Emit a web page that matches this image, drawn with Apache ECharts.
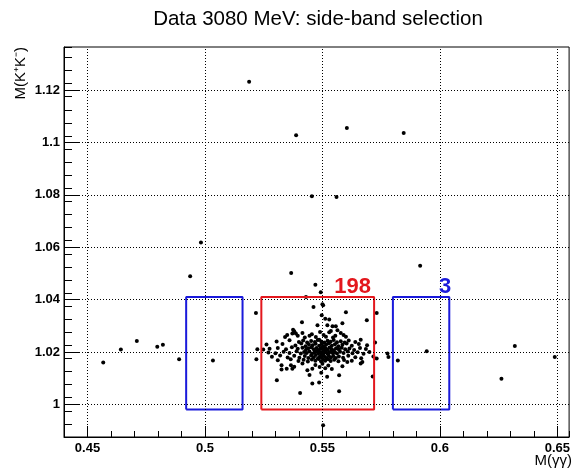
<!DOCTYPE html>
<html>
<head>
<meta charset="utf-8">
<script src="https://cdn.jsdelivr.net/npm/echarts@6/dist/echarts.min.js"></script>
<style>
html,body{margin:0;padding:0;background:#fff;}
#chart{width:573px;height:470px;}
</style>
</head>
<body>
<div id="chart"></div>
<script>
// ---- axis ticks ----
const xMajorTicks = [0.45, 0.5, 0.55, 0.6, 0.65];
const xMinorStep = 0.01;
const yMajorTicks = [1, 1.02, 1.04, 1.06, 1.08, 1.1, 1.12];
const yMinorStep = 0.005;
const xRange = [0.44, 0.655];
const yRange = [0.9875, 1.1365];

// ---- selection windows ----
const signalWindowX = [0.524, 0.572];
const sideLeftX = [0.492, 0.516];
const sideRightX = [0.580, 0.604];
const windowY = [0.998, 1.041];

// ---- event counts ----
const signalCount = '198';
const sideCount = '3';
const signalCountPos = [0.555, 1.0405];
const sideCountPos = [0.5996, 1.0405];

// ---- events: points inside signal window ----
const eventsCore = [
[0.5305,1.0240],[0.5360,1.0245],[0.5400,1.0238],[0.5418,1.0244],[0.5435,1.0236],[0.5452,1.0242],[0.5468,1.0238],[0.5480,1.0246],[0.5495,1.0240],[0.5508,1.0236],[0.5522,1.0243],[0.5535,1.0239],[0.5548,1.0246],[0.5562,1.0237],[0.5578,1.0241],[0.5595,1.0236],[0.5612,1.0244],[0.5640,1.0238],
[0.5262,1.0228],[0.5330,1.0230],[0.5385,1.0225],[0.5410,1.0232],[0.5428,1.0222],[0.5442,1.0229],[0.5458,1.0226],[0.5471,1.0231],[0.5486,1.0224],[0.5497,1.0230],[0.5505,1.0222],[0.5516,1.0228],[0.5527,1.0233],[0.5540,1.0224],[0.5553,1.0229],[0.5568,1.0222],[0.5585,1.0227],[0.5603,1.0232],[0.5625,1.0224],[0.5655,1.0230],[0.5690,1.0226],
[0.5248,1.0209],[0.5275,1.0212],[0.5310,1.0215],[0.5345,1.0210],[0.5370,1.0218],[0.5395,1.0212],[0.5415,1.0216],[0.5430,1.0208],[0.5440,1.0214],[0.5452,1.0218],[0.5463,1.0210],[0.5475,1.0215],[0.5484,1.0207],[0.5492,1.0213],[0.5499,1.0218],[0.5506,1.0209],[0.5513,1.0215],[0.5521,1.0208],[0.5530,1.0217],[0.5538,1.0211],[0.5547,1.0206],[0.5558,1.0214],[0.5570,1.0209],[0.5582,1.0216],[0.5597,1.0210],[0.5615,1.0213],[0.5635,1.0207],[0.5660,1.0215],[0.5685,1.0211],
[0.5270,1.0198],[0.5300,1.0195],[0.5335,1.0201],[0.5360,1.0196],[0.5390,1.0203],[0.5408,1.0194],[0.5422,1.0200],[0.5433,1.0196],[0.5445,1.0202],[0.5456,1.0193],[0.5466,1.0199],[0.5475,1.0204],[0.5483,1.0195],[0.5490,1.0200],[0.5496,1.0192],[0.5502,1.0203],[0.5508,1.0197],[0.5515,1.0201],[0.5522,1.0193],[0.5530,1.0199],[0.5537,1.0204],[0.5545,1.0195],[0.5553,1.0200],[0.5562,1.0194],[0.5575,1.0201],[0.5590,1.0196],[0.5608,1.0202],[0.5628,1.0195],[0.5650,1.0199],[0.5675,1.0193],[0.5700,1.0200],
[0.5285,1.0182],[0.5320,1.0186],[0.5352,1.0179],[0.5380,1.0185],[0.5402,1.0178],[0.5425,1.0184],[0.5440,1.0177],[0.5452,1.0186],[0.5463,1.0180],[0.5472,1.0188],[0.5481,1.0176],[0.5489,1.0183],[0.5497,1.0179],[0.5504,1.0187],[0.5511,1.0181],[0.5519,1.0176],[0.5527,1.0185],[0.5536,1.0179],[0.5546,1.0184],[0.5557,1.0177],[0.5570,1.0183],[0.5588,1.0178],[0.5610,1.0185],[0.5640,1.0180],[0.5665,1.0176],[0.5717,1.0183],
[0.5310,1.0168],[0.5365,1.0172],[0.5398,1.0165],[0.5420,1.0170],[0.5438,1.0163],[0.5455,1.0171],[0.5470,1.0166],[0.5484,1.0173],[0.5494,1.0164],[0.5503,1.0170],[0.5512,1.0166],[0.5524,1.0172],[0.5535,1.0165],[0.5550,1.0170],[0.5568,1.0164],[0.5592,1.0169],[0.5625,1.0166],
[0.5326,1.0149],[0.5326,1.0133],[0.5348,1.0136],[0.5366,1.0149],[0.5380,1.0143],[0.5372,1.0136],[0.5415,1.0156],[0.5436,1.0130],[0.5457,1.0136],[0.5470,1.0150],[0.5488,1.0142],[0.5500,1.0155],[0.5512,1.0138],[0.5525,1.0148],[0.5540,1.0135],[0.5606,1.0162],[0.5663,1.0156],[0.5670,1.0162],[0.5585,1.0145],
[0.5306,1.0092],[0.5405,1.0043],[0.5457,1.0079],[0.5486,1.0083],[0.5571,1.0111],[0.5571,1.0050],[0.5495,1.0120],[0.5520,1.0105],[0.5445,1.0112],[0.5714,1.0106],
[0.5490,1.0276],[0.5536,1.0280],[0.5529,1.0275],[0.5564,1.0283],[0.5578,1.0272],[0.5380,1.0279],[0.5372,1.0270],[0.5387,1.0270],[0.5415,1.0272],[0.5341,1.0257],[0.5472,1.0257],[0.5486,1.0247],[0.5663,1.0247],[0.5375,1.0285],[0.5395,1.0262],[0.5445,1.0262],[0.5455,1.0268],[0.5505,1.0265],[0.5515,1.0258],[0.5545,1.0255],[0.5555,1.0262],[0.5590,1.0265],[0.5600,1.0258],[0.5425,1.0255],[0.5350,1.0265],
[0.5497,1.0340],[0.5512,1.0327],[0.5529,1.0324],[0.5689,1.0321],[0.5479,1.0302],[0.5521,1.0302],[0.5543,1.0298],[0.5557,1.0298],[0.5462,1.0372],[0.5500,1.0382],[0.5503,1.0378],[0.5600,1.0352],[0.5413,1.0313],[0.5585,1.0310]
];

// ---- events: points outside the signal window ----
const eventsOutside = [
[0.4567,1.0160],[0.4642,1.0209],[0.4710,1.0242],[0.4797,1.0220],[0.4821,1.0227],[0.4890,1.0172],[0.5034,1.0167],
[0.5217,1.0349],[0.5223,1.0210],[0.5219,1.0172],[0.4937,1.0489],[0.4983,1.0618],[0.5367,1.0502],
[0.5455,1.0795],[0.5560,1.0792],[0.5916,1.0529],[0.5470,1.0457],[0.5493,1.0428],[0.5430,1.0410],
[0.5188,1.1232],[0.5388,1.1028],[0.5604,1.1056],[0.5846,1.1036],
[0.5731,1.0349],[0.5724,1.0236],[0.5731,1.0175],[0.5777,1.0194],[0.5781,1.0181],
[0.5821,1.0167],[0.5944,1.0203],[0.6319,1.0223],[0.6262,1.0098],[0.6489,1.0181],[0.5503,0.9920]
];

const RED = '#e3171d';
const BLUE = '#1a1adb';
const FONT = '"Liberation Sans", Arial, Helvetica, sans-serif';

function boxPath(xr, yr) {
  return [[xr[0], yr[0]], [xr[1], yr[0]], [xr[1], yr[1]], [xr[0], yr[1]], [xr[0], yr[0]]];
}

const chart = echarts.init(document.getElementById('chart'), null, {renderer: 'canvas'});

const axisLabelStyle = {fontFamily: FONT, fontWeight: 'bold', fontSize: 13, color: '#000'};
const tickLine = {color: '#000', width: 1, opacity: 1};

const option = {
  animation: false,
  backgroundColor: '#fff',
  grid: {left: 64, right: 3, top: 47, bottom: 33, show: true, borderColor: '#000', borderWidth: 1, backgroundColor: 'transparent'},
  graphic: [
    {type: 'text', x: 318, y: 9, style: {text: 'Data 3080 MeV: side-band selection', font: '20.5px ' + FONT, fill: '#000', align: 'center', verticalAlign: 'top'}},
    {type: 'text', x: 572, y: 453, style: {text: 'M(γγ)', font: '15px ' + FONT, fill: '#000', align: 'right', verticalAlign: 'top'}},
    {type: 'text', x: 21, y: 47, rotation: Math.PI / 2, style: {text: 'M(K⁺K⁻)', font: '15px ' + FONT, fill: '#000', align: 'right', verticalAlign: 'middle'}}
  ],
  xAxis: [
    {
      type: 'value', min: xRange[0], max: xRange[1], position: 'bottom',
      axisLine: {show: true, onZero: false, lineStyle: {color: '#000', width: 1}},
      axisTick: {show: true, inside: true, length: 11, customValues: xMajorTicks, lineStyle: tickLine},
      axisLabel: Object.assign({show: true, margin: 5, customValues: xMajorTicks, formatter: v => String(+(+v).toFixed(3))}, axisLabelStyle),
      splitLine: {show: false}, minorTick: {show: false}
    },
    {
      type: 'value', min: xRange[0], max: xRange[1], interval: xMinorStep, position: 'bottom', offset: 0, gridIndex: 0,
      axisLine: {show: false, onZero: false},
      axisTick: {show: true, inside: true, length: 6, lineStyle: tickLine},
      axisLabel: {show: false}, splitLine: {show: false}
    }
  ],
  yAxis: [
    {
      type: 'value', min: yRange[0], max: yRange[1], position: 'left',
      axisLine: {show: true, onZero: false, lineStyle: {color: '#000', width: 1}},
      axisTick: {show: true, inside: true, length: 15, customValues: yMajorTicks, lineStyle: tickLine},
      axisLabel: Object.assign({show: true, margin: 4, customValues: yMajorTicks, formatter: v => String(+(+v).toFixed(3))}, axisLabelStyle),
      splitLine: {show: false}
    },
    {
      type: 'value', min: yRange[0], max: yRange[1], interval: yMinorStep, position: 'left', offset: 0, gridIndex: 0,
      axisLine: {show: false, onZero: false},
      axisTick: {show: true, inside: true, length: 8, lineStyle: tickLine},
      axisLabel: {show: false}, splitLine: {show: false}
    }
  ],
  series: [
    {
      type: 'line', name: 'grid', data: [], z: 1, silent: true,
      markLine: {
        silent: true, symbol: 'none', animation: false,
        label: {show: false},
        lineStyle: {color: '#000', width: 1, type: [1, 2], opacity: 1},
        emphasis: {disabled: true},
        data: xMajorTicks.map(v => ({xAxis: v})).concat(yMajorTicks.map(v => ({yAxis: v})))
      }
    },
    {
      type: 'scatter', name: 'events', z: 3, symbol: 'circle', symbolSize: 4,
      itemStyle: {color: '#000', opacity: 1},
      emphasis: {disabled: true},
      data: eventsCore.concat(eventsOutside)
    },
    {type: 'line', name: 'signal', z: 4, showSymbol: false, symbol: 'none', data: boxPath(signalWindowX, windowY), lineStyle: {color: RED, width: 2, opacity: 1}},
    {type: 'line', name: 'sideL', z: 4, showSymbol: false, symbol: 'none', data: boxPath(sideLeftX, windowY), lineStyle: {color: BLUE, width: 2, opacity: 1}},
    {type: 'line', name: 'sideR', z: 4, showSymbol: false, symbol: 'none', data: boxPath(sideRightX, windowY), lineStyle: {color: BLUE, width: 2, opacity: 1}},
    {
      type: 'scatter', name: 'counts', z: 5, symbolSize: 0, silent: true,
      itemStyle: {opacity: 1},
      data: [
        {value: [signalCountPos[0], signalCountPos[1]], name: signalCount, label: {color: RED}},
        {value: [sideCountPos[0], sideCountPos[1]], name: sideCount, label: {color: BLUE}}
      ],
      label: {show: true, position: [0, 0], align: 'left', verticalAlign: 'bottom', formatter: p => p.name, fontFamily: FONT, fontWeight: 'bold', fontSize: 22, textBorderWidth: 0, opacity: 1}
    }
  ]
};
chart.setOption(option);
</script>
</body>
</html>
